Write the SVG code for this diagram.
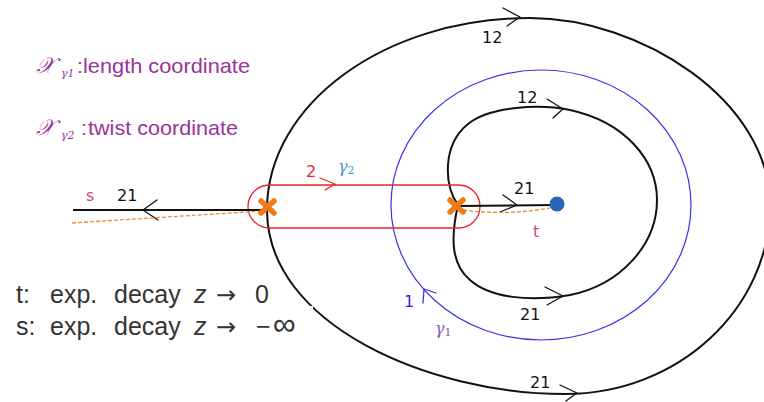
<svg xmlns="http://www.w3.org/2000/svg" width="764" height="402" viewBox="0 0 764 402">
<style>
.blk{fill:none;stroke:#111;stroke-width:2}
.ah{fill:none;stroke:#111;stroke-width:1.3;stroke-linecap:round;stroke-linejoin:round}
.red{fill:none;stroke:#e8262b;stroke-width:1.3}
.blue{fill:none;stroke:#3535e6;stroke-width:1.2}
.dash{fill:none;stroke:#f08a30;stroke-width:1.3;stroke-dasharray:4 2}
.xm{stroke:#ef7b1a;stroke-width:5.5;stroke-linecap:round}
.num{font-family:"DejaVu Sans","Liberation Sans",sans-serif;font-size:16px;fill:#111}
.lab{font-family:"Liberation Sans","DejaVu Sans",sans-serif;font-size:21px;fill:#993399}
.big{font-family:"Liberation Sans","DejaVu Sans",sans-serif;font-size:25px;fill:#333}
.greek{font-family:"DejaVu Serif","Liberation Serif",serif;font-style:italic}
</style>
<rect width="764" height="402" fill="#ffffff"/>

<g id="connectors">
  <g id="outer-curve">
    <path class="blk" d="M267,210 C267,104 385,18 530,18 C640,18 770,100 770,205 C770,309 678,394 565,394 C430,394 267,325 267,210 Z"/>
    <path class="ah" d="M503,8 L520,17 L507,26"/>
    <path class="ah" d="M560,385 L577,393 L566,401"/>
  </g>
  <g id="gamma1-curve">
    <ellipse class="blue" cx="541" cy="205" rx="150" ry="135"/>
    <path fill="none" stroke="#3535e6" stroke-width="1.3" stroke-linecap="round" stroke-linejoin="round" d="M423,303 L424,289 L436,293"/>
  </g>
  <g id="inner-curve">
    <path class="blk" d="M458,205 C444,185 442,145 468,124 C490,106 540,104 570,110 C625,122 657,160 657,200 C657,245 620,285 570,295 C530,302 490,298 470,280 C452,265 450,240 458,205 Z"/>
    <path class="ah" d="M547,99 L563,109 L553,118"/>
    <path class="ah" d="M545,287 L563,296 L547,305"/>
  </g>
  <g id="gamma2-loop">
    <rect class="red" x="248" y="185" width="232" height="43" rx="21.5"/>
    <path fill="none" stroke="#e8262b" stroke-width="1.3" stroke-linecap="round" d="M320,178 L335,184 L325,190"/>
  </g>
  <g id="left-ray">
    <line class="blk" x1="73" y1="210" x2="267" y2="210" stroke-width="1.8"/>
    <path class="ah" d="M157,200 L143,210 L158,220"/>
    <path class="dash" d="M72,223 L262,211"/>
  </g>
  <g id="inner-segment">
    <line class="blk" x1="458" y1="206" x2="557" y2="205" stroke-width="1.8"/>
    <path class="ah" d="M503,195 L517,205 L500,212"/>
    <path class="dash" d="M463,210 Q510,216 555,207"/>
  </g>
</g>

<g id="branch-point-left">
  <line class="xm" x1="261" y1="201" x2="274" y2="213"/>
  <line class="xm" x1="261" y1="213" x2="274" y2="201"/>
</g>
<g id="branch-point-right">
  <line class="xm" x1="450" y1="200" x2="463" y2="212"/>
  <line class="xm" x1="450" y1="212" x2="463" y2="200"/>
</g>
<g id="puncture">
  <circle cx="557" cy="204" r="7.5" fill="#2a66b8"/>
</g>

<g id="edge-labels">
  <text class="num" x="482" y="43">12</text>
  <text class="num" x="530" y="388">21</text>
  <text class="num" x="517" y="103">12</text>
  <text class="num" x="520" y="320">21</text>
  <text class="num" x="117" y="201">21</text>
  <text class="num" x="514" y="194">21</text>
  <text class="num" x="86" y="201" style="fill:#d04a62">s</text>
  <text class="num" x="533" y="237" style="fill:#d04a62">t</text>
  <text class="num" x="306" y="177" style="fill:#e8262b">2</text>
  <text class="greek" x="338" y="172" font-size="16" fill="#4a98d0">γ<tspan font-size="11" font-style="normal" dy="2">2</tspan></text>
  <text class="num" x="404" y="307" style="fill:#2a2ae0">1</text>
  <text class="greek" x="435" y="334" font-size="16" fill="#8a5ab0">γ<tspan font-size="11" font-style="normal" dy="2">1</tspan></text>
</g>

<g id="legend">
  <text class="lab" y="73"><tspan class="greek" x="36" font-size="22">𝒳</tspan><tspan class="greek" x="61" font-size="11" dy="4">γ1</tspan><tspan x="77" dy="-4">:</tspan></text>
  <text class="lab" x="83" y="73" textLength="167" lengthAdjust="spacingAndGlyphs">length coordinate</text>
  <text class="lab" y="135"><tspan class="greek" x="36" font-size="22">𝒳</tspan><tspan class="greek" x="61" font-size="11" dy="4">γ2</tspan><tspan x="81" dy="-4">:</tspan></text>
  <text class="lab" x="88" y="135" textLength="150" lengthAdjust="spacingAndGlyphs">twist coordinate</text>
</g>

<g id="asymptotics">
  <rect x="252" y="306" width="61" height="14" fill="#ffffff"/>
  <text class="big" y="303"><tspan x="16">t:</tspan><tspan x="50">exp.</tspan><tspan x="114">decay</tspan><tspan x="194" font-style="italic">z</tspan><tspan x="216" font-family="DejaVu Sans" font-size="24">→</tspan><tspan x="255">0</tspan></text>
  <text class="big" y="335"><tspan x="16">s:</tspan><tspan x="50">exp.</tspan><tspan x="114">decay</tspan><tspan x="194" font-style="italic">z</tspan><tspan x="216" font-family="DejaVu Sans" font-size="24">→</tspan><tspan x="256">−</tspan><tspan x="273" font-size="32">∞</tspan></text>
</g>
</svg>
